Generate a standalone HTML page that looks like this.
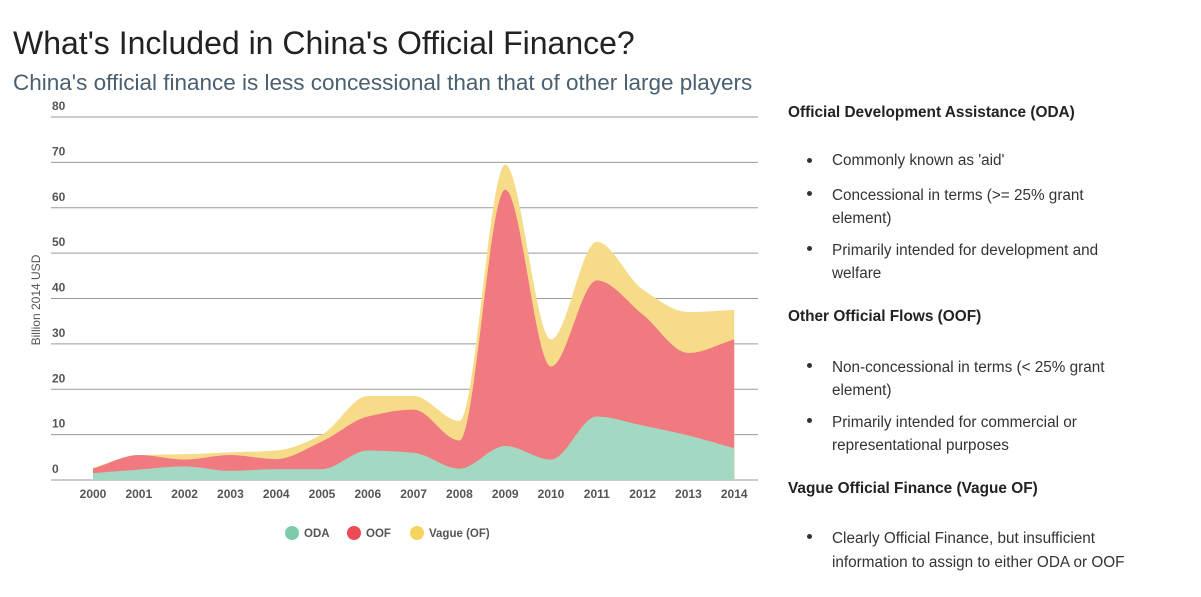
<!DOCTYPE html>
<html><head><meta charset="utf-8"><style>
body{margin:0;width:1201px;height:597px;background:#fff;overflow:hidden;font-family:"Liberation Sans",sans-serif;position:relative}
.t{position:absolute;white-space:nowrap}
.h{font-weight:bold;font-size:15.4px;color:#222;left:788px}
.b{font-size:15.3px;color:#333;left:832px}
.d{position:absolute;left:807px;width:5px;height:5px;border-radius:50%;background:#333}
</style></head><body>
<div class="t" style="left:13px;top:25px;font-size:32px;color:#222">What's Included in China's Official Finance?</div>
<div class="t" style="left:13px;top:70px;font-size:22.5px;color:#4a5f70">China's official finance is less concessional than that of other large players</div>
<svg id="chart" width="780" height="597" style="position:absolute;left:0;top:0"></svg>
<div class="t h" style="top:104px">Official Development Assistance (ODA)</div>
<div class="d" style="top:158px"></div><div class="t b" style="top:152px">Commonly known as 'aid'</div>
<div class="d" style="top:191px"></div><div class="t b" style="top:184px;line-height:23px">Concessional in terms (&gt;= 25% grant<br>element)</div>
<div class="d" style="top:246px"></div><div class="t b" style="top:239px;line-height:23px">Primarily intended for development and<br>welfare</div>
<div class="t h" style="top:308px">Other Official Flows (OOF)</div>
<div class="d" style="top:363px"></div><div class="t b" style="top:356px;line-height:23px">Non-concessional in terms (&lt; 25% grant<br>element)</div>
<div class="d" style="top:418px"></div><div class="t b" style="top:411px;line-height:23px">Primarily intended for commercial or<br>representational purposes</div>
<div class="t h" style="top:480px">Vague Official Finance (Vague OF)</div>
<div class="d" style="top:534px"></div><div class="t b" style="top:527px;line-height:24px">Clearly Official Finance, but insufficient<br>information to assign to either ODA or OOF</div>
<script>
const years=[2000,2001,2002,2003,2004,2005,2006,2007,2008,2009,2010,2011,2012,2013,2014];
const oda=[1.5,2.3,3.0,2.0,2.4,2.4,6.5,6.0,2.5,7.5,4.5,14,12,9.8,7.0];
const oof=[1.0,3.2,1.5,3.5,2.2,6.1,7.5,9.5,6.2,56.5,20.5,30,24.5,18.2,24];
const vague=[0.2,0,1.2,0.6,1.9,1.5,4.5,3.0,4.3,5.5,6,8.5,5.5,9,6.5];
const yTicks=[0,10,20,30,40,50,60,70,80];
const NS="http://www.w3.org/2000/svg";
const svg=document.getElementById('chart');
const X=i=>93+i*45.8, Y=v=>480-v*4.5375;
function el(t,a,p){const e=document.createElementNS(NS,t);for(const k in a)e.setAttribute(k,a[k]);(p||svg).appendChild(e);return e;}
yTicks.forEach(v=>{
 const l=el('line',{x1:51,x2:758,y1:Y(v),y2:Y(v),stroke:'#9a9a9a','stroke-width':1});
 
 
 const t=el('text',{x:52,y:Y(v)-7,'font-size':12,'font-weight':'bold',fill:'#555'});t.textContent=v;
 
 
});
years.forEach((yr,i)=>{const t=el('text',{x:X(i),y:498,'font-size':12,'font-weight':'bold',fill:'#555','text-anchor':'middle'});t.textContent=yr;
 
 });
const yt=el('text',{transform:'translate(40,300) rotate(-90)','font-size':12,fill:'#555','text-anchor':'middle'});yt.textContent='Billion 2014 USD';


function mono(xs,ys){const n=xs.length,d=[],m=[];for(let i=0;i<n-1;i++)d.push((ys[i+1]-ys[i])/(xs[i+1]-xs[i]));
 m[0]=d[0];m[n-1]=d[n-2];
 for(let i=1;i<n-1;i++){m[i]=d[i-1]*d[i]<=0?0:2*d[i-1]*d[i]/(d[i-1]+d[i]);}
 let p='';for(let i=0;i<n-1;i++){const h=xs[i+1]-xs[i];p+=(i?'':'M'+xs[0]+','+ys[0])+`C${xs[i]+h/3},${ys[i]+m[i]*h/3} ${xs[i+1]-h/3},${ys[i+1]-m[i+1]*h/3} ${xs[i+1]},${ys[i+1]}`;}return p;}
const xs=years.map((_,i)=>X(i));
const s1=oda.slice(),s2=oda.map((v,i)=>v+oof[i]),s3=s2.map((v,i)=>v+vague[i]);
const base=`L${xs[xs.length-1]},${Y(0)}L${xs[0]},${Y(0)}Z`;
[[s3,'#f6dc89','vague-area'],[s2,'#f07a80','oof-area'],[s1,'#a3d8c2','oda-area']].forEach(([s,c,n])=>{
 const p=el('path',{d:mono(xs,s.map(Y))+base,fill:c});
 
 
});
const lg=[['ODA','#7ecba9',292],['OOF','#ec4a54',354],['Vague (OF)','#f4d35e',417]];
lg.forEach(([n,c,x])=>{const g=el('g',{});
 
 
 el('circle',{cx:x,cy:533,r:7,fill:c},g);const t=el('text',{x:x+12,y:537,'font-size':11.5,'font-weight':'bold',fill:'#555'},g);t.textContent=n;});
</script>
</body></html>
